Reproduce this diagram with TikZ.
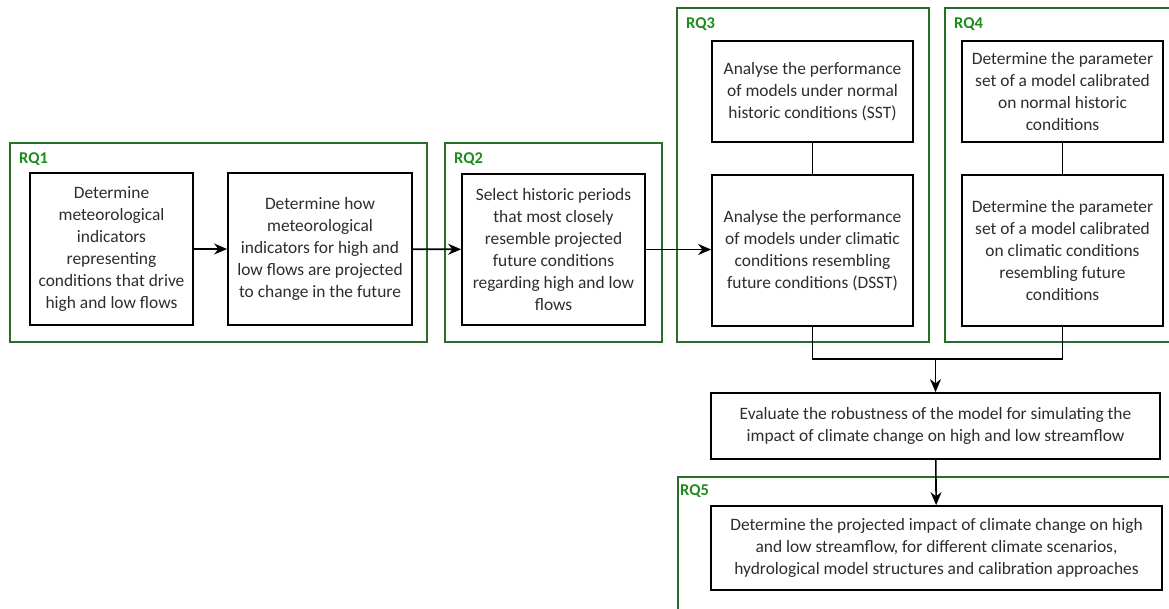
\documentclass[tikz,border=0pt]{standalone}
\usepackage{fontspec}
\setmainfont{Carlito}
\usetikzlibrary{arrows.meta}
\definecolor{frameg}{RGB}{40,110,40}
\definecolor{labelg}{RGB}{30,140,30}
\definecolor{txt}{RGB}{45,45,45}
\begin{document}
\begin{tikzpicture}[x=1pt,y=-1pt,
  box/.style={draw=black,line width=1.8pt,rectangle,align=center,inner sep=0pt,
    text=txt,font=\fontsize{17.4}{22}\selectfont},
  frame/.style={draw=frameg,line width=1.4pt},
  rqlabel/.style={anchor=west,text=labelg,inner sep=0pt,font=\fontsize{16.5}{18}\selectfont\bfseries},
  arr/.style={line width=1.6pt,-{Stealth[length=13pt,width=11pt]}},
  conn/.style={line width=1.6pt}]
\useasboundingbox (0,0) rectangle (1169,608);
\fill[white] (0,0) rectangle (1169,608);
% green frames
\draw[frame] (10,143) rectangle (427,342);
\draw[frame] (445,143) rectangle (662,342);
\draw[frame] (677,8) rectangle (929,342);
\draw[frame] (945,8) rectangle (1180,342);
\draw[frame] (678,477) rectangle (1180,620);
\node[rqlabel] (l1) at (19,159) {RQ1};
\node[rqlabel] (l2) at (454,159) {RQ2};
\node[rqlabel] (l3) at (686,24) {RQ3};
\node[rqlabel] (l4) at (954,24) {RQ4};
\node[rqlabel] (l5) at (680,491) {RQ5};
% boxes
\node[box,minimum width=163pt,minimum height=152pt] (b1) at (111.5,249)
  {Determine\\meteorological\\indicators\\representing\\conditions that drive\\high and low flows};
\node[box,minimum width=184pt,minimum height=152pt] (b2) at (320,249)
  {Determine how\\meteorological\\indicators for high and\\low flows are projected\\to change in the future};
\node[box,minimum width=183pt,minimum height=151pt] (b3) at (553.5,249.5)
  {Select historic periods\\that most closely\\resemble projected\\future conditions\\regarding high and low\\flows};
\node[box,minimum width=201pt,minimum height=101pt] (r3a) at (812.5,91.5)
  {Analyse the performance\\of models under normal\\historic conditions (SST)};
\node[box,minimum width=201pt,minimum height=151pt] (r3b) at (812.5,250.5)
  {Analyse the performance\\of models under climatic\\conditions resembling\\future conditions (DSST)};
\node[box,minimum width=201pt,minimum height=101pt] (r4a) at (1062.5,91.5)
  {Determine the parameter\\set of a model calibrated\\on normal historic\\conditions};
\node[box,minimum width=201pt,minimum height=151pt] (r4b) at (1062.5,250.5)
  {Determine the parameter\\set of a model calibrated\\on climatic conditions\\resembling future\\conditions};
\node[box,minimum width=449pt,minimum height=66pt] (ev) at (935.5,426)
  {Evaluate the robustness of the model for simulating the\\impact of climate change on high and low streamflow};
\node[box,minimum width=451pt,minimum height=84pt] (r5) at (936.5,548)
  {Determine the projected impact of climate change on high\\and low streamflow, for different climate scenarios,\\hydrological model structures and calibration approaches};
\coordinate (j) at (935.5,359);
% connectors
\draw[arr] (b1) -- (b2);
\draw[arr] (b2) -- (b3);
\draw[arr] (b3) -- (b3 -| r3b.west);
\draw[conn] (r3a) -- (r3b);
\draw[conn] (r4a) -- (r4b);
\draw[conn] (r3b.south) |- (j) -| (r4b.south);
\draw[arr] (j) -- (ev);
\draw[arr] (ev) -- (r5);
\end{tikzpicture}
\end{document}
